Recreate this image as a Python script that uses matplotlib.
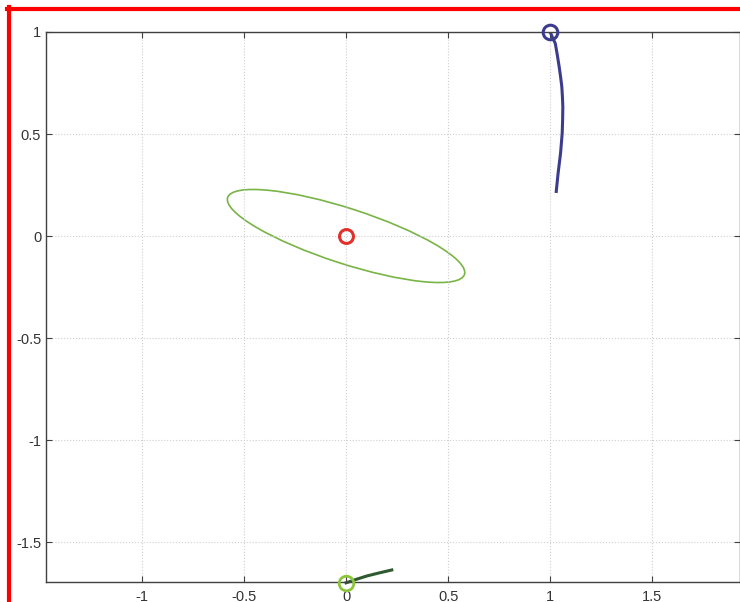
import matplotlib
matplotlib.use("Agg")
import matplotlib.pyplot as plt
from matplotlib.patches import Ellipse
from matplotlib.lines import Line2D

plt.rcParams['font.family'] = ['Liberation Sans', 'DejaVu Sans']
plt.rcParams['axes.unicode_minus'] = False

# trajectory of the first body (blue), starting at (1, 1)
blue_x = [1.0, 1.012, 1.025, 1.035, 1.044, 1.051, 1.057, 1.060, 1.062,
          1.061, 1.059, 1.055, 1.051, 1.045, 1.039, 1.034, 1.029]
blue_y = [1.0, 0.972, 0.944, 0.887, 0.830, 0.781, 0.732, 0.683, 0.634,
          0.570, 0.505, 0.456, 0.407, 0.358, 0.309, 0.260, 0.211]

# trajectory of the second body (dark green), starting at (0, -1.7)
green_x = [0.0, 0.05, 0.10, 0.16, 0.224]
green_y = [-1.70, -1.683, -1.667, -1.652, -1.637]

# fixed centre and uncertainty ellipse
centre = (0.0, 0.0)
ell_width = 1.22
ell_height = 0.27
ell_angle = -18

xticks = [-1, -0.5, 0, 0.5, 1, 1.5]
yticks = [-1.5, -1, -0.5, 0, 0.5, 1]

W, H = 740, 602
fig = plt.figure(figsize=(W / 100, H / 100), dpi=100)
ax = fig.add_axes([46 / W, 1 - 582 / H, (740 - 46) / W, (582 - 32) / H])

ax.plot(blue_x, blue_y, color='#3c3c8e', lw=2.2, solid_capstyle='butt')
ax.plot(blue_x[0], blue_y[0], 'o', ms=10.5, mfc='none', mec='#3c3c8e',
        mew=2.2, clip_on=False, zorder=5)

ax.plot(green_x, green_y, color='#2e5a30', lw=2.2, clip_on=False)
ax.plot(green_x[0], green_y[0], 'o', ms=10.5, mfc='none', mec='#8cc43c',
        mew=2.0, clip_on=False, zorder=5)

ax.add_patch(Ellipse(centre, ell_width, ell_height, angle=ell_angle,
                     fill=False, ec='#78b446', lw=1.2))
ax.plot(centre[0], centre[1], 'o', ms=10, mfc='none', mec='#e2302a', mew=2.2)

ax.set_xlim(-1.47, 1.93)
ax.set_ylim(-1.696, 1.0)
ax.set_xticks(xticks)
ax.set_yticks(yticks)
ax.set_xticklabels(['%g' % t for t in xticks])
ax.set_yticklabels(['%g' % t for t in yticks])

ax.grid(True, ls=':', color='#cfcfcf', lw=0.8)
ax.tick_params(direction='in', length=4, width=0.8, color='#404040',
               labelsize=10.5, labelcolor='#333333', top=True, right=True)
ax.tick_params(axis='x', pad=5.5)
ax.tick_params(axis='y', pad=3.5)
for s in ax.spines.values():
    s.set_color('#404040')
    s.set_linewidth(1.0)

# red frame along the top and left edges
fig.add_artist(Line2D([7 / W, 1], [1 - 9 / H, 1 - 9 / H], color='red', lw=3.0,
                      transform=fig.transFigure))
fig.add_artist(Line2D([9 / W, 9 / W], [0, 1 - 7 / H], color='red', lw=3.0,
                      transform=fig.transFigure))

fig.savefig('out.png', dpi=100)
